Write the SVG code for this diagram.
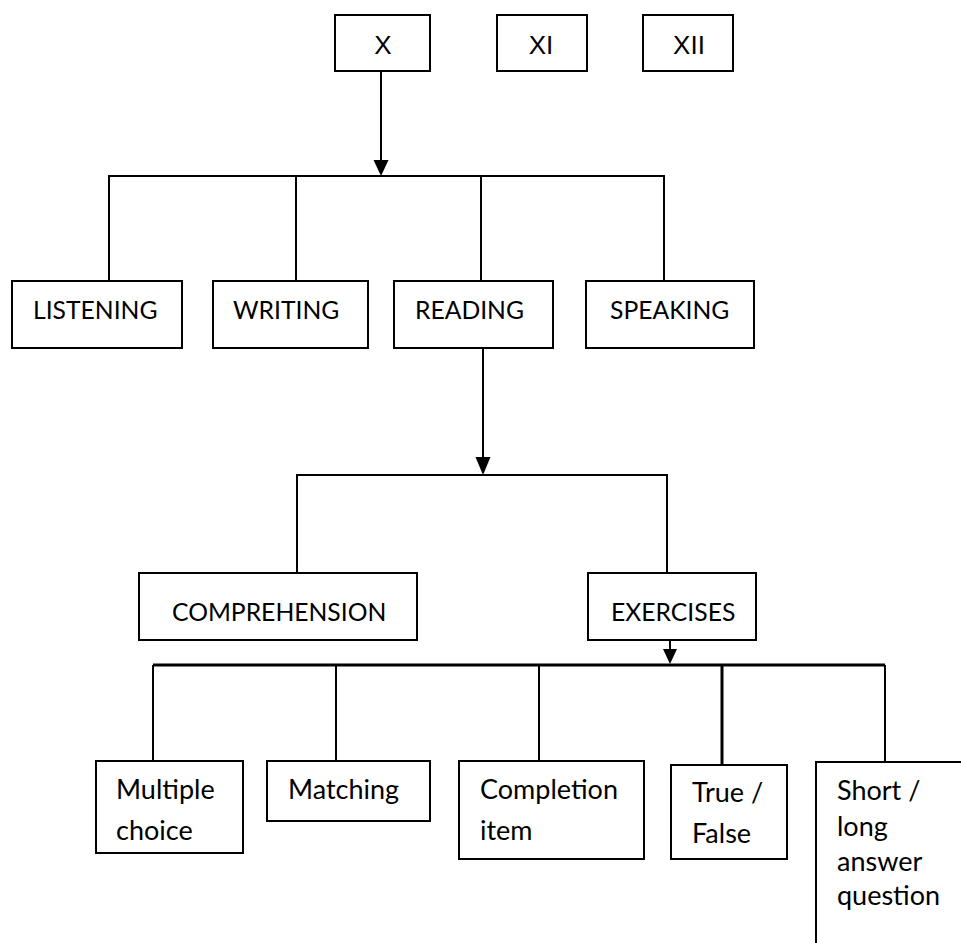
<svg xmlns="http://www.w3.org/2000/svg" width="961" height="943" viewBox="0 0 961 943">
<style>
.box{fill:#fff;stroke:#000;stroke-width:2}
.t{font-family:Lato,"Open Sans",sans-serif;font-size:27px;fill:#000}
.u{font-family:Lato,"Open Sans",sans-serif;font-size:24.7px;fill:#000}
.r{font-family:"Liberation Sans",Arial,sans-serif;font-size:26px;fill:#000;text-anchor:middle}
.c{fill:none;stroke:#000;stroke-width:2}
.c3{fill:none;stroke:#000;stroke-width:3}
.ah{fill:#000}
</style>
<rect width="961" height="943" fill="#fff"/>
<g id="connectors">
<line class="c" x1="381" y1="71" x2="381" y2="161"/>
<polygon class="ah" points="373.5,160 388.5,160 381,176"/>
<path class="c" d="M109,281 V176 H664 V281 M296,176 V281 M481,176 V281"/>
<line class="c" x1="483" y1="348" x2="483" y2="458"/>
<polygon class="ah" points="475.5,457 490.5,457 483,475"/>
<path class="c" d="M297,573 V475 H667 V573"/>
<line class="c" x1="670" y1="640" x2="670" y2="650"/>
<polygon class="ah" points="663,649 677,649 670,664"/>
<path class="c3" d="M153,665 H885"/>
<path class="c" d="M153,665 V761 M336,665 V761 M539,665 V761 M885,665 V762"/>
<line class="c3" x1="722" y1="665" x2="722" y2="768"/>
</g>
<g id="node-x"><rect class="box" x="335" y="15" width="95" height="56"/><text class="r" x="383" y="54">X</text></g>
<g id="node-xi"><rect class="box" x="497" y="15" width="90" height="56"/><text class="r" x="541" y="54">XI</text></g>
<g id="node-xii"><rect class="box" x="643" y="15" width="90" height="56"/><text class="r" x="689" y="54">XII</text></g>
<g id="node-listening"><rect class="box" x="12" y="281" width="170" height="67"/><text class="u" x="33" y="319">LISTENING</text></g>
<g id="node-writing"><rect class="box" x="213" y="281" width="155" height="67"/><text class="u" x="233" y="319">WRITING</text></g>
<g id="node-reading"><rect class="box" x="394" y="281" width="159" height="67"/><text class="u" x="415" y="319">READING</text></g>
<g id="node-speaking"><rect class="box" x="586" y="281" width="168" height="67"/><text class="u" x="610" y="319">SPEAKING</text></g>
<g id="node-comprehension"><rect class="box" x="139" y="573" width="278" height="67"/><text class="u" x="172" y="621">COMPREHENSION</text></g>
<g id="node-exercises"><rect class="box" x="588" y="573" width="168" height="67"/><text class="u" x="611" y="621">EXERCISES</text></g>
<g id="node-multiple"><rect class="box" x="96" y="761" width="147" height="92"/><text class="t" x="116" y="799">Multiple</text><text class="t" x="116" y="840">choice</text></g>
<g id="node-matching"><rect class="box" x="267" y="761" width="163" height="60"/><text class="t" x="288" y="799">Matching</text></g>
<g id="node-completion"><rect class="box" x="459" y="761" width="185" height="98"/><text class="t" x="480" y="799">Completion</text><text class="t" x="480" y="840">item</text></g>
<g id="node-truefalse"><rect class="box" x="671" y="765" width="116" height="94"/><text class="t" x="692" y="802">True /</text><text class="t" x="692" y="843">False</text></g>
<g id="node-short"><rect class="box" x="816" y="762" width="200" height="220"/><text class="t" x="837" y="800">Short /</text><text class="t" x="837" y="836">long</text><text class="t" x="837" y="871">answer</text><text class="t" x="837" y="905">question</text></g>
</svg>
